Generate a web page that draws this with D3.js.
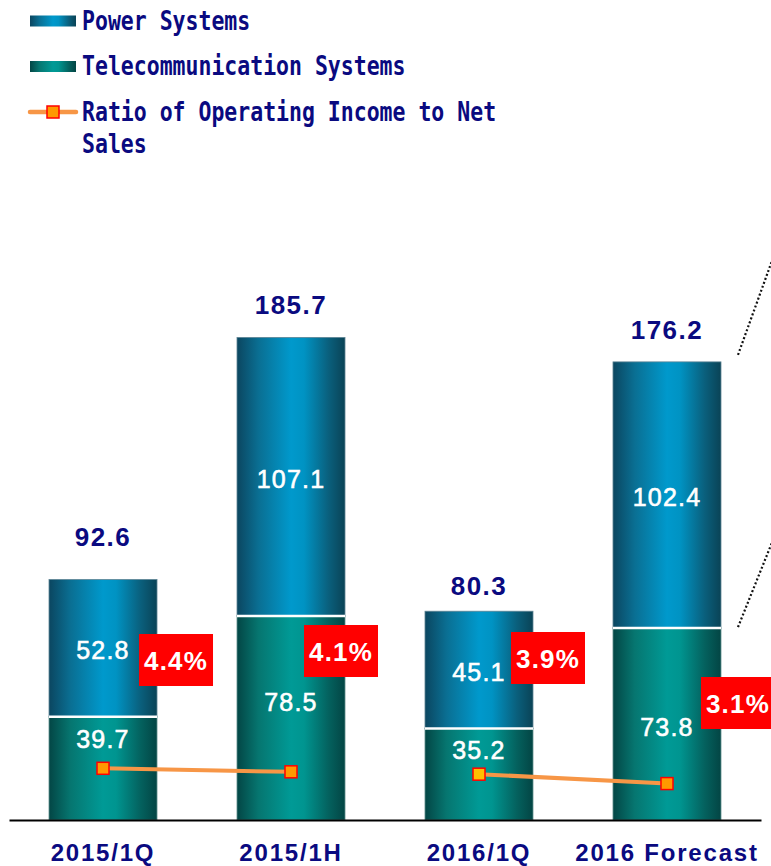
<!DOCTYPE html>
<html>
<head>
<meta charset="utf-8">
<script src="https://cdn.jsdelivr.net/npm/d3@7/dist/d3.min.js"></script>
<style>
  html, body { margin: 0; padding: 0; background: #ffffff; }
  svg { display: block; }
</style>
</head>
<body>
<script>
// ---------------- DATA ----------------
const categories = ["2015/1Q", "2015/1H", "2016/1Q", "2016 Forecast"];
const telecomValues = [39.7, 78.5, 35.2, 73.8];
const powerValues = [52.8, 107.1, 45.1, 102.4];
const totalValues = [92.6, 185.7, 80.3, 176.2];
const ratioValues = [4.4, 4.1, 3.9, 3.1];
const ratioGroups = ["2015", "2015", "2016", "2016"];
const legendLabels = ["Power Systems", "Telecommunication Systems", "Ratio of Operating Income to Net", "Sales"];

// ---------------- LAYOUT ----------------
const W = 771, H = 866;
const baseY = 820;
// small annotation nudges (layout only)
const pctBoxDy = [0, -9, -2, 43];
const pctBoxDx = [0, -23, -4, -2];
const telecomLabelDy = [31, 95, 31, 108];
const totalLabelDy = [-33, -23, -16, -23];

const navy = "#0a0a80";

const svg = d3.select("body").append("svg").attr("width", W).attr("height", H);
const defs = svg.append("defs");

function hGrad(id, stops) {
  const g = defs.append("linearGradient").attr("id", id)
    .attr("x1", "0%").attr("x2", "100%").attr("y1", "0%").attr("y2", "0%");
  stops.forEach(s => g.append("stop").attr("offset", s[0]).attr("stop-color", s[1]));
}
hGrad("gPower", [["0%", "#0b4660"], ["20%", "#0a6f93"], ["50%", "#0099cc"], ["62%", "#0093c3"], ["85%", "#0a5f7c"], ["100%", "#0a4356"]]);
hGrad("gTele", [["0%", "#034645"], ["20%", "#067670"], ["50%", "#009a96"], ["62%", "#009590"], ["85%", "#04615e"], ["100%", "#034544"]]);

const x = d3.scaleBand().domain(categories).range([9, 761]).paddingInner(0.4255).paddingOuter(0.2128);
const y = d3.scaleLinear().domain([0, 200]).range([baseY, baseY - 520]);
const y2 = d3.scaleLinear().domain([0, 10]).range([baseY, baseY - 117.5]);

// ---------------- BARS ----------------
const rows = categories.map((c, i) => ({
  c, i, tel: telecomValues[i], pow: powerValues[i], tot: totalValues[i], ratio: ratioValues[i], grp: ratioGroups[i]
}));

const bars = svg.append("g");
bars.selectAll("rect.tel").data(rows).join("rect").attr("class", "tel")
  .attr("x", d => x(d.c)).attr("width", x.bandwidth())
  .attr("y", d => y(d.tel)).attr("height", d => y(0) - y(d.tel))
  .attr("fill", "url(#gTele)").attr("stroke", "#5f8e8c").attr("stroke-width", 0.8);
bars.selectAll("rect.pow").data(rows).join("rect").attr("class", "pow")
  .attr("x", d => x(d.c)).attr("width", x.bandwidth())
  .attr("y", d => y(d.tel + d.pow)).attr("height", d => y(d.tel) - y(d.tel + d.pow))
  .attr("fill", "url(#gPower)").attr("stroke", "#5e8494").attr("stroke-width", 0.8);
bars.selectAll("line.sep").data(rows).join("line").attr("class", "sep")
  .attr("x1", d => x(d.c)).attr("x2", d => x(d.c) + x.bandwidth())
  .attr("y1", d => y(d.tel)).attr("y2", d => y(d.tel))
  .attr("stroke", "#ffffff").attr("stroke-width", 2.5);

// axis baseline + category labels
const xAxis = d3.axisBottom(x).tickSize(0).tickPadding(0);
const axG = svg.append("g").attr("transform", `translate(0,${baseY})`).call(xAxis);
axG.select(".domain").attr("stroke", "#000").attr("stroke-width", 2.2);
axG.selectAll(".tick text")
  .attr("y", 41).attr("dy", 0)
  .attr("font-family", "Arial, 'Liberation Sans', sans-serif")
  .attr("font-size", 24).attr("font-weight", "bold")
  .attr("letter-spacing", 1.8)
  .attr("fill", navy);

// value labels
const cx = d => x(d.c) + x.bandwidth() / 2;
svg.append("g").selectAll("text").data(rows).join("text")
  .attr("x", cx).attr("y", d => y(d.tot) + totalLabelDy[d.i])
  .attr("text-anchor", "middle")
  .attr("font-family", "Arial, 'Liberation Sans', sans-serif")
  .attr("font-size", 26).attr("font-weight", "bold").attr("letter-spacing", 1.5)
  .attr("fill", navy).text(d => d.tot.toFixed(1));

svg.append("g").selectAll("text").data(rows).join("text")
  .attr("x", cx).attr("y", d => (y(d.tel) + y(d.tel + d.pow)) / 2 + 11)
  .attr("text-anchor", "middle")
  .attr("font-family", "Arial, 'Liberation Sans', sans-serif")
  .attr("font-size", 25).attr("letter-spacing", 1.2)
  .attr("fill", "#ffffff").attr("stroke", "#ffffff").attr("stroke-width", 0.6)
  .text(d => d.pow.toFixed(1));

svg.append("g").selectAll("text").data(rows).join("text")
  .attr("x", cx).attr("y", d => y(d.tel) + telecomLabelDy[d.i])
  .attr("text-anchor", "middle")
  .attr("font-family", "Arial, 'Liberation Sans', sans-serif")
  .attr("font-size", 25).attr("letter-spacing", 1.2)
  .attr("fill", "#ffffff").attr("stroke", "#ffffff").attr("stroke-width", 0.6)
  .text(d => d.tel.toFixed(1));

// ---------------- RATIO LINE ----------------
const line = d3.line().x(cx).y(d => y2(d.ratio));
const groups = d3.groups(rows, d => d.grp);
svg.append("g").selectAll("path").data(groups).join("path")
  .attr("d", g => line(g[1]))
  .attr("fill", "none").attr("stroke", "#f79646").attr("stroke-width", 4);
const markerFill = ["#ff9900", "#ff9900", "#ffc000", "#ff9900"];
svg.append("g").selectAll("rect").data(rows).join("rect")
  .attr("x", d => cx(d) - 6).attr("y", d => y2(d.ratio) - 6)
  .attr("width", 12).attr("height", 12)
  .attr("fill", d => markerFill[d.i]).attr("stroke", "#ff0000").attr("stroke-width", 1.5);

// percentage boxes
const pct = svg.append("g").selectAll("g").data(rows).join("g")
  .attr("transform", d => `translate(${x(d.c) + x.bandwidth() - 18 + pctBoxDx[d.i]},${660 + pctBoxDy[d.i]})`);
pct.append("rect").attr("x", 0).attr("y", -26).attr("width", 74).attr("height", 52).attr("fill", "#ff0000");
pct.append("text").attr("x", 37).attr("y", 10).attr("text-anchor", "middle")
  .attr("font-family", "Arial, 'Liberation Sans', sans-serif")
  .attr("font-size", 26).attr("font-weight", "bold").attr("letter-spacing", 1.2)
  .attr("fill", "#ffffff").text(d => d.ratio.toFixed(1) + "%");

// dotted callout lines (to off-chart panel)
svg.append("line").attr("x1", 738).attr("y1", y(176.2) - 7).attr("x2", 773).attr("y2", 258)
  .attr("stroke", "#111").attr("stroke-width", 2.2).attr("stroke-dasharray", "2,2.2");
svg.append("line").attr("x1", 738).attr("y1", y(73.8) - 1).attr("x2", 773).attr("y2", 540)
  .attr("stroke", "#111").attr("stroke-width", 2.2).attr("stroke-dasharray", "2,2.2");

// ---------------- LEGEND ----------------
const leg = svg.append("g");
leg.append("rect").attr("x", 30).attr("y", 15.5).attr("width", 46).attr("height", 11).attr("fill", "url(#gPower)");
leg.append("rect").attr("x", 30).attr("y", 61).attr("width", 46).attr("height", 11).attr("fill", "url(#gTele)");
leg.append("line").attr("x1", 30).attr("x2", 76).attr("y1", 112).attr("y2", 112)
  .attr("stroke", "#f79646").attr("stroke-width", 4.5).attr("stroke-linecap", "round");
leg.append("rect").attr("x", 47).attr("y", 106).attr("width", 12).attr("height", 12)
  .attr("fill", "#ff9900").attr("stroke", "#ff0000").attr("stroke-width", 1.5);

const legBase = [30, 75, 121, 153];
leg.selectAll("text").data(legendLabels).join("text")
  .attr("transform", (d, i) => `translate(82,${legBase[i]}) scale(1,1.25)`)
  .attr("font-family", "'DejaVu Sans Mono', monospace")
  .attr("font-size", 21.5).attr("font-weight", "bold")
  .attr("fill", navy).text(d => d);
</script>
</body>
</html>
